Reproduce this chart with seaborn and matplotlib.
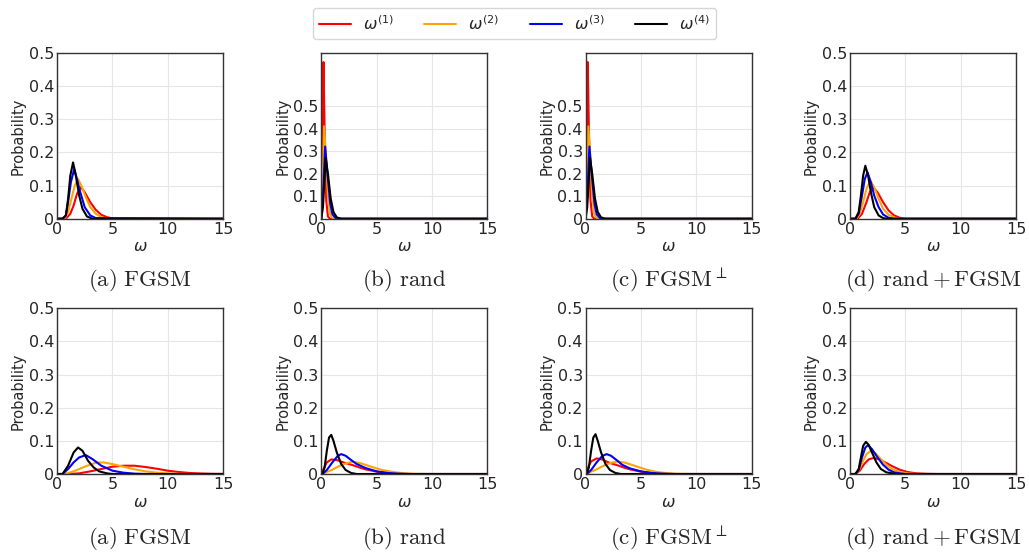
import numpy as np
import matplotlib
matplotlib.use('Agg')
import matplotlib.pyplot as plt
import seaborn as sns

sns.set_style('whitegrid')
plt.rcParams['font.family'] = ['DejaVu Sans']

# series labels and colours
series_labels = [r'$\omega^{(1)}$', r'$\omega^{(2)}$', r'$\omega^{(3)}$', r'$\omega^{(4)}$']
series_colors = ['#ff0000', '#ffa500', '#0000ff', '#000000']

captions = [r'$\mathrm{(a)\ FGSM}$', r'$\mathrm{(b)\ rand}$',
            r'$\mathrm{(c)\ FGSM}^{\perp}$', r'$\mathrm{(d)\ rand + FGSM}$']

x_ticks = [0, 5, 10, 15]
y_ticks = [0, 0.1, 0.2, 0.3, 0.4, 0.5]
y_tick_labels = ['0', '0.1', '0.2', '0.3', '0.4', '0.5']

# ---- top row: (x, probability) ----
top_fgsm_w1 = ([0, 0.8, 1.2, 1.5, 1.8, 2.15, 2.5, 3.0, 3.5, 4.0, 4.5, 5.0, 15],
               [0, 0, 0.015, 0.04, 0.075, 0.095, 0.08, 0.05, 0.027, 0.012, 0.005, 0.001, 0])
top_fgsm_w2 = ([0, 0.7, 1.0, 1.3, 1.6, 1.9, 2.2, 2.6, 3.0, 3.5, 4.0, 4.5, 15],
               [0, 0, 0.02, 0.06, 0.10, 0.12, 0.10, 0.065, 0.035, 0.015, 0.005, 0, 0])
top_fgsm_w3 = ([0, 0.5, 0.8, 1.0, 1.25, 1.55, 1.8, 2.1, 2.5, 3.0, 3.5, 15],
               [0, 0, 0.01, 0.05, 0.11, 0.15, 0.12, 0.08, 0.035, 0.01, 0.002, 0])
top_fgsm_w4 = ([0, 0.5, 0.8, 1.0, 1.2, 1.45, 1.7, 2.0, 2.3, 2.7, 3.2, 15],
               [0, 0, 0.01, 0.06, 0.13, 0.17, 0.13, 0.07, 0.03, 0.007, 0, 0])

top_rand_w1 = ([0, 0.1, 0.2, 0.3, 0.45, 0.6, 0.8, 15],
               [0, 0.3, 0.695, 0.4, 0.08, 0.01, 0, 0])
top_rand_w2 = ([0, 0.1, 0.25, 0.4, 0.6, 0.8, 1.0, 1.2, 15],
               [0, 0.1, 0.41, 0.3, 0.1, 0.02, 0.003, 0, 0])
top_rand_w3 = ([0, 0.15, 0.35, 0.55, 0.8, 1.0, 1.3, 1.6, 15],
               [0, 0.1, 0.32, 0.2, 0.07, 0.02, 0.003, 0, 0])
top_rand_w4 = ([0, 0.15, 0.4, 0.6, 0.85, 1.1, 1.4, 1.8, 15],
               [0, 0.05, 0.27, 0.2, 0.09, 0.03, 0.006, 0, 0])

top_perp_w1 = ([0, 0.1, 0.2, 0.3, 0.45, 0.6, 0.8, 15],
               [0, 0.3, 0.695, 0.4, 0.08, 0.01, 0, 0])
top_perp_w2 = ([0, 0.1, 0.25, 0.4, 0.6, 0.8, 1.0, 1.2, 15],
               [0, 0.1, 0.41, 0.3, 0.1, 0.02, 0.003, 0, 0])
top_perp_w3 = ([0, 0.15, 0.35, 0.55, 0.8, 1.0, 1.3, 1.6, 15],
               [0, 0.1, 0.32, 0.2, 0.07, 0.02, 0.003, 0, 0])
top_perp_w4 = ([0, 0.15, 0.4, 0.6, 0.85, 1.1, 1.4, 1.8, 15],
               [0, 0.05, 0.27, 0.2, 0.09, 0.03, 0.006, 0, 0])

top_mix_w1 = ([0, 0.7, 1.1, 1.5, 1.8, 2.1, 2.5, 3.0, 3.5, 4.0, 4.5, 5.0, 15],
              [0, 0, 0.015, 0.05, 0.08, 0.095, 0.08, 0.05, 0.025, 0.01, 0.003, 0, 0])
top_mix_w2 = ([0, 0.6, 0.9, 1.2, 1.5, 1.85, 2.2, 2.6, 3.0, 3.5, 4.0, 4.5, 15],
              [0, 0, 0.015, 0.05, 0.09, 0.115, 0.095, 0.06, 0.03, 0.012, 0.004, 0, 0])
top_mix_w3 = ([0, 0.5, 0.8, 1.1, 1.35, 1.6, 1.9, 2.2, 2.6, 3.0, 3.5, 4.0, 15],
              [0, 0, 0.015, 0.07, 0.12, 0.14, 0.11, 0.07, 0.035, 0.013, 0.003, 0, 0])
top_mix_w4 = ([0, 0.5, 0.8, 1.0, 1.2, 1.4, 1.65, 1.9, 2.2, 2.6, 3.0, 3.4, 15],
              [0, 0, 0.02, 0.07, 0.13, 0.16, 0.13, 0.08, 0.035, 0.01, 0.002, 0, 0])

# ---- bottom row ----
bot_fgsm_w1 = ([0, 1, 2, 3, 4, 5, 6, 7, 8, 9, 10, 11, 12, 13, 14, 15],
               [0, 0, 0.002, 0.008, 0.015, 0.022, 0.025, 0.025, 0.021, 0.016, 0.01, 0.006, 0.003, 0.0015, 0.0005, 0.0002])
bot_fgsm_w2 = ([0, 0.7, 1.5, 2.5, 3.5, 4.2, 5, 6, 7, 8, 9, 10, 11, 12, 15],
               [0, 0, 0.008, 0.022, 0.034, 0.035, 0.03, 0.022, 0.014, 0.008, 0.004, 0.002, 0.0005, 0, 0])
bot_fgsm_w3 = ([0, 0.5, 1.0, 1.5, 2.0, 2.6, 3.2, 4.0, 5.0, 6.0, 7.0, 8.0, 15],
               [0, 0, 0.015, 0.035, 0.05, 0.057, 0.045, 0.025, 0.01, 0.004, 0.001, 0, 0])
bot_fgsm_w4 = ([0, 0.5, 1.0, 1.5, 1.9, 2.3, 2.8, 3.3, 3.8, 4.5, 5.0, 15],
               [0, 0, 0.025, 0.065, 0.08, 0.07, 0.04, 0.02, 0.008, 0.002, 0, 0])

bot_rand_w1 = ([0, 0.2, 0.5, 0.9, 1.4, 2.0, 2.5, 3.0, 3.5, 4.0, 5.0, 6.0, 7.0, 8.0, 15],
               [0, 0.015, 0.035, 0.044, 0.042, 0.035, 0.03, 0.025, 0.019, 0.014, 0.007, 0.003, 0.001, 0, 0])
bot_rand_w2 = ([0, 0.1, 0.5, 1.0, 1.5, 2.2, 2.8, 3.5, 4.5, 5.5, 6.5, 7.5, 8.5, 10, 15],
               [0, 0, 0.006, 0.013, 0.022, 0.032, 0.037, 0.033, 0.022, 0.012, 0.006, 0.002, 0.0005, 0, 0])
bot_rand_w3 = ([0, 0.1, 0.5, 1.0, 1.5, 1.8, 2.2, 2.7, 3.2, 4.0, 5.0, 6.0, 7.0, 8.0, 15],
               [0, 0, 0.012, 0.035, 0.055, 0.06, 0.055, 0.042, 0.03, 0.018, 0.008, 0.003, 0.001, 0, 0])
bot_rand_w4 = ([0, 0.1, 0.3, 0.5, 0.7, 0.9, 1.1, 1.4, 1.8, 2.2, 2.7, 3.2, 15],
               [0, 0, 0.02, 0.07, 0.11, 0.118, 0.1, 0.065, 0.03, 0.012, 0.003, 0, 0])

bot_perp_w1 = ([0, 0.2, 0.5, 1.0, 1.5, 2.0, 2.5, 3.0, 3.5, 4.0, 5.0, 6.0, 7.0, 8.0, 15],
               [0, 0.018, 0.038, 0.047, 0.044, 0.036, 0.03, 0.025, 0.019, 0.014, 0.007, 0.003, 0.001, 0, 0])
bot_perp_w2 = ([0, 0.1, 0.5, 1.0, 1.5, 2.2, 2.9, 3.6, 4.5, 5.5, 6.5, 7.5, 8.5, 10, 15],
               [0, 0, 0.007, 0.014, 0.023, 0.033, 0.038, 0.034, 0.024, 0.013, 0.006, 0.002, 0.0005, 0, 0])
bot_perp_w3 = ([0, 0.1, 0.5, 1.0, 1.5, 1.9, 2.3, 2.8, 3.3, 4.0, 5.0, 6.0, 7.0, 8.0, 15],
               [0, 0, 0.012, 0.035, 0.054, 0.06, 0.055, 0.042, 0.028, 0.017, 0.008, 0.003, 0.001, 0, 0])
bot_perp_w4 = ([0, 0.1, 0.3, 0.5, 0.7, 0.9, 1.1, 1.4, 1.8, 2.2, 2.7, 3.2, 15],
               [0, 0, 0.02, 0.07, 0.11, 0.12, 0.1, 0.065, 0.03, 0.012, 0.003, 0, 0])

bot_mix_w1 = ([0, 0.5, 0.9, 1.3, 1.7, 2.1, 2.6, 3.2, 3.8, 4.5, 5.2, 6.0, 7.0, 8.0, 15],
              [0, 0, 0.01, 0.03, 0.044, 0.048, 0.045, 0.035, 0.024, 0.013, 0.006, 0.002, 0.0005, 0, 0])
bot_mix_w2 = ([0, 0.5, 0.8, 1.2, 1.5, 1.9, 2.3, 2.8, 3.3, 3.8, 4.5, 5.2, 6.0, 15],
              [0, 0, 0.01, 0.04, 0.06, 0.07, 0.063, 0.045, 0.028, 0.015, 0.006, 0.002, 0, 0])
bot_mix_w3 = ([0, 0.5, 0.8, 1.1, 1.4, 1.65, 2.0, 2.5, 3.0, 3.5, 4.0, 4.5, 5.0, 15],
              [0, 0, 0.012, 0.05, 0.08, 0.087, 0.075, 0.05, 0.028, 0.013, 0.005, 0.002, 0, 0])
bot_mix_w4 = ([0, 0.5, 0.8, 1.0, 1.2, 1.45, 1.7, 2.0, 2.4, 2.8, 3.3, 4.0, 4.5, 15],
              [0, 0, 0.015, 0.05, 0.085, 0.097, 0.088, 0.065, 0.035, 0.015, 0.005, 0.001, 0, 0])

top_panels = [
    [top_fgsm_w1, top_fgsm_w2, top_fgsm_w3, top_fgsm_w4],
    [top_rand_w1, top_rand_w2, top_rand_w3, top_rand_w4],
    [top_perp_w1, top_perp_w2, top_perp_w3, top_perp_w4],
    [top_mix_w1, top_mix_w2, top_mix_w3, top_mix_w4],
]
bot_panels = [
    [bot_fgsm_w1, bot_fgsm_w2, bot_fgsm_w3, bot_fgsm_w4],
    [bot_rand_w1, bot_rand_w2, bot_rand_w3, bot_rand_w4],
    [bot_perp_w1, bot_perp_w2, bot_perp_w3, bot_perp_w4],
    [bot_mix_w1, bot_mix_w2, bot_mix_w3, bot_mix_w4],
]
top_ylim = [0.5, 0.735, 0.735, 0.5]
bot_ylim = [0.5, 0.5, 0.5, 0.5]

fig, axes = plt.subplots(2, 4, figsize=(10.29, 5.54), dpi=100)
fig.subplots_adjust(left=0.0554, right=0.9874, top=0.9043, bottom=0.1444,
                    wspace=0.59, hspace=0.54)

for row, (panels, ylims) in enumerate([(top_panels, top_ylim), (bot_panels, bot_ylim)]):
    for col, curves in enumerate(panels):
        ax = axes[row, col]
        for (xs, ys), lab, c in zip(curves, series_labels, series_colors):
            sns.lineplot(x=xs, y=ys, ax=ax, color=c, lw=1.5, sort=False,
                         estimator=None, label=lab if (row == 0 and col == 0) else None)
        ax.set_xlim(0, 15)
        ax.set_ylim(0, ylims[col])
        ax.set_xticks(x_ticks)
        ax.set_xticklabels([str(t) for t in x_ticks])
        ax.set_yticks(y_ticks)
        ax.set_yticklabels(y_tick_labels)
        ax.tick_params(labelsize=11.5, length=0, pad=2)
        ax.set_xlabel(r'$\omega$', fontsize=11.5, labelpad=2)
        ax.set_ylabel('Probability', fontsize=10.5, labelpad=2)
        ax.grid(True, color='#e6e6e6', lw=0.8)
        for sp in ax.spines.values():
            sp.set_color('#333333')
            sp.set_linewidth(1.0)
        if ax.get_legend() is not None:
            ax.get_legend().remove()
        pos = ax.get_position()
        cap_y = 1 - 280 / 554 if row == 0 else 1 - 538 / 554
        fig.text((pos.x0 + pos.x1) / 2, cap_y, captions[col], ha='center', va='center',
                 fontsize=16.5, math_fontfamily='cm')

handles, labels = axes[0, 0].get_legend_handles_labels()
fig.legend(handles, labels, loc='upper center', bbox_to_anchor=(0.5, 1.0), ncol=4,
           fontsize=11.5, handlelength=2.0, handletextpad=0.75, columnspacing=1.9,
           frameon=True, edgecolor='#cccccc', fancybox=True, borderpad=0.4)

fig.savefig('out.png', dpi=100)
